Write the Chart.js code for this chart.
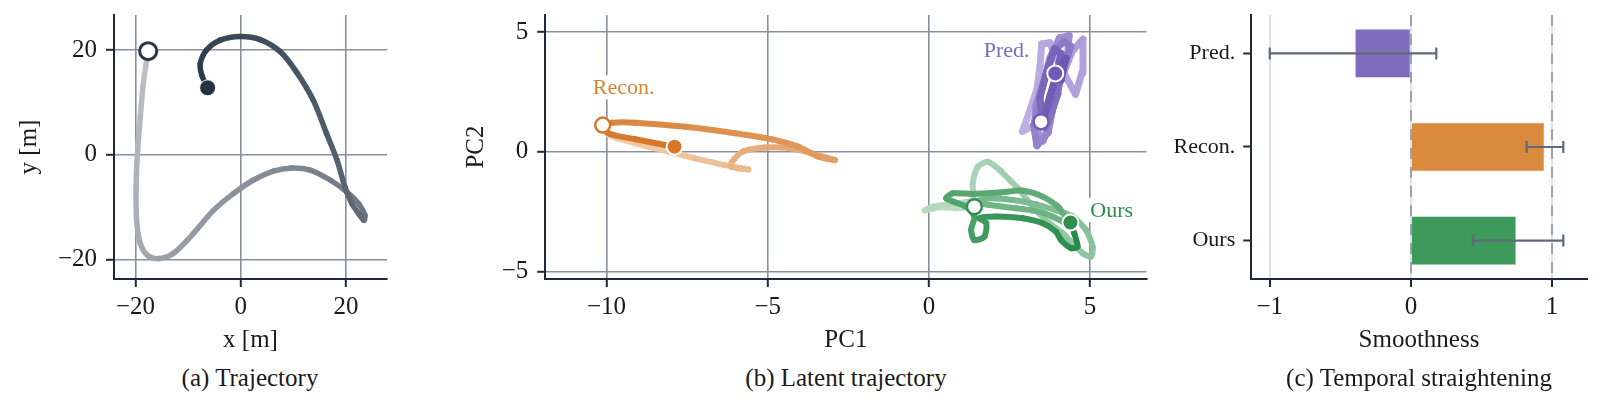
<!DOCTYPE html>
<html>
<head>
<meta charset="utf-8">
<title>Trajectory / latent trajectory / temporal straightening</title>
<script src="https://cdn.jsdelivr.net/npm/chart.js@4.4.1/dist/chart.umd.min.js"></script>
<style>
  body { margin: 0; background: #fff; width: 1603px; height: 409px; position: relative; overflow: hidden; }
  canvas { position: absolute; top: 0; }
  .caption {
    position: absolute; top: 363px; transform: translateX(-50%);
    font-family: 'Liberation Serif', serif; font-size: 25px; line-height: 30px;
    color: #1a1a1a; white-space: nowrap;
  }
</style>
</head>
<body>
<canvas id="trajChart" width="400" height="360" style="left:0px"></canvas>
<canvas id="latentChart" width="720" height="360" style="left:440px"></canvas>
<canvas id="smoothChart" width="463" height="360" style="left:1140px"></canvas>
<div class="caption" style="left:250px">(a) Trajectory</div>
<div class="caption" style="left:846px">(b) Latent trajectory</div>
<div class="caption" style="left:1419px">(c) Temporal straightening</div>

<script>
// ---- (a) trajectory, x/y in metres (start -> end)
const trajPath = [
  [-17.6, 19.8], [-18.0, 17.4], [-18.6, 13.0], [-19.1, 7.3], [-19.6, 0.9], [-19.9, -6.1],
  [-19.8, -12.5], [-19.1, -16.9], [-17.6, -19.3], [-15.5, -19.8], [-12.8, -18.8], [-9.0, -15.0],
  [-5.2, -10.6], [-1.4, -7.4], [2.4, -4.8], [6.2, -3.1], [9.7, -2.5], [13.2, -2.9],
  [17.0, -4.8], [20.2, -7.1], [22.4, -9.3], [23.6, -11.5], [23.4, -12.5], [22.4, -11.2],
  [21.1, -9.3], [19.8, -6.1], [18.3, -1.0], [16.3, 4.1], [13.8, 10.4], [10.6, 15.8],
  [7.5, 19.7], [3.7, 22.0], [-0.1, 22.6], [-3.9, 21.9], [-6.5, 20.0], [-7.7, 17.4],
  [-7.4, 15.2], [-6.3, 12.8]
];
const trajTicks = [-20, 0, 20];

// ---- (b) latent trajectories in PCA space
const reconPath = [
  [-10.12, 1.11], [-9.94, 0.70], [-9.11, 0.35], [-8.08, 0.0], [-7.25, -0.28], [-6.33, -0.56],
  [-5.60, -0.74], [-6.15, -0.62], [-6.05, -0.32], [-5.75, 0.02], [-5.09, 0.17], [-4.26, 0.14],
  [-3.64, -0.07], [-2.92, -0.35], [-3.43, -0.21], [-4.06, 0.21], [-4.88, 0.52], [-6.02, 0.77],
  [-7.56, 1.04], [-9.11, 1.21], [-9.83, 1.21], [-10.12, 1.11], [-9.94, 0.77], [-9.11, 0.52],
  [-8.18, 0.28], [-7.89, 0.21]
];
const predPath = [
  [3.48, 1.25], [2.90, 0.85], [3.10, 1.60], [3.35, 2.60], [3.45, 3.60], [3.50, 4.50],
  [3.75, 4.55], [4.00, 3.80], [4.30, 3.00], [4.55, 2.40], [4.75, 3.30], [4.78, 4.70],
  [4.45, 4.20], [4.15, 3.20], [3.90, 2.20], [3.75, 1.20], [3.55, 0.45], [3.35, 0.90],
  [3.30, 1.90], [3.55, 2.90], [3.75, 3.90], [4.05, 4.75], [4.35, 4.85], [4.30, 4.00],
  [4.05, 3.00], [3.85, 1.90], [3.70, 0.80], [3.35, 0.25], [3.25, 1.10], [3.40, 2.10],
  [3.60, 3.10], [3.85, 4.20], [4.20, 4.60], [4.40, 4.40], [4.20, 3.60], [3.95, 2.60],
  [3.70, 1.70], [3.60, 1.00], [3.80, 1.60], [4.00, 2.40], [4.05, 3.00], [3.75, 2.00],
  [3.50, 1.40], [3.45, 2.30], [3.65, 3.30], [3.90, 4.30], [4.10, 4.10], [3.95, 3.20],
  [3.75, 2.30], [3.60, 1.60], [3.85, 2.70], [4.10, 3.60], [4.25, 3.90], [4.10, 3.00],
  [3.92, 3.27]
];
const oursPath = [
  [1.41, -2.30], [0.85, -2.36], [0.33, -2.32], [-0.13, -2.46], [0.12, -2.30], [0.85, -2.15],
  [1.36, -2.02], [1.36, -1.32], [1.52, -0.63], [1.83, -0.42], [2.19, -0.76], [2.50, -1.18],
  [2.81, -1.60], [3.22, -2.30], [3.74, -2.99], [4.15, -3.41], [4.77, -4.24], [5.03, -4.38],
  [5.08, -3.97], [4.87, -3.27], [4.46, -2.71], [3.94, -2.45], [3.33, -2.20], [2.60, -2.02],
  [1.88, -1.95], [1.47, -2.09], [1.88, -2.23], [2.71, -2.36], [3.43, -2.51], [4.05, -2.85],
  [4.36, -3.13], [4.05, -2.36], [3.53, -1.88], [2.91, -1.63], [2.19, -1.71], [1.36, -1.77],
  [0.74, -1.74], [0.54, -1.95], [1.16, -2.30], [1.41, -2.71], [1.31, -3.27], [1.41, -3.69],
  [1.72, -3.55], [1.78, -2.99], [1.57, -2.78], [2.09, -2.71], [2.91, -2.78], [3.53, -2.99],
  [3.94, -3.34], [4.10, -3.69], [4.41, -4.03], [4.61, -3.97], [4.51, -3.41], [4.39, -2.96]
];
const pcXTicks = [-10, -5, 0, 5];
const pcYTicks = [-5, 0, 5];
const seriesNames = ['Pred.', 'Recon.', 'Ours'];
const seriesLabelX = [2.41, -9.47, 5.67];
const seriesLabelY = [4.25, 2.69, -2.43];

// ---- (c) smoothness per model
const smoothCats = ['Pred.', 'Recon.', 'Ours'];
const smoothMean = [-0.40, 0.95, 0.75];
const smoothLow = [-1.00, 0.82, 0.44];
const smoothHigh = [0.18, 1.08, 1.08];
const smoothTicks = [-1, 0, 1];
const smoothRefDashed = [0, 1];

// colours
const INK = '#1a1a1a';
const SPINE = '#1f2937';
const GRID = '#898f9c';
const trajColors = { light: [192, 196, 199], dark: [36, 52, 70] };
const seriesColors = {
  pred:  { light: [190, 178, 226], dark: [104, 84, 178], text: '#7b68bf' },
  recon: { light: [243, 208, 176], dark: [210, 112, 30], text: '#d9822d' },
  ours:  { light: [190, 224, 200], dark: [34, 136, 68], text: '#2f8b4e' }
};
const barColors = ['#7f6cbd', '#d98a3d', '#3d9a5b'];

Chart.defaults.font.family = "'Liberation Serif', serif";
Chart.defaults.color = INK;
Chart.defaults.animation = false;

function lerpColor(a, b, t) {
  t = Math.max(0, Math.min(1, t));
  return 'rgb(' + a.map((v, i) => Math.round(v + (b[i] - v) * t)).join(',') + ')';
}

function signed(v) {
  return v < 0 ? '\u2212' + Math.abs(v) : String(v);
}

// line whose colour runs from light (start) to dark (end)
function pathDataset(path, col, width, tension) {
  const n = path.length - 1;
  return {
    data: path.map(p => ({ x: p[0], y: p[1] })),
    showLine: true,
    pointRadius: 0,
    pointHoverRadius: 0,
    borderWidth: width,
    borderColor: lerpColor(col.light, col.dark, 0.5),
    borderCapStyle: 'round',
    borderJoinStyle: 'round',
    tension: tension,
    segment: { borderColor: ctx => lerpColor(col.light, col.dark, ctx.p0DataIndex / n) },
    order: 2
  };
}

function markerDataset(pt, fill, edge, edgeWidth, radius) {
  return {
    data: [{ x: pt[0], y: pt[1] }],
    pointRadius: radius,
    pointHoverRadius: radius,
    pointBackgroundColor: fill,
    pointBorderColor: edge,
    pointBorderWidth: edgeWidth,
    order: 0
  };
}

function axis(min, max, ticks, title, fit, opts) {
  const isX = fit.height !== undefined;
  return Object.assign({
    type: 'linear',
    min: min,
    max: max,
    offset: false,
    afterBuildTicks: s => { s.ticks = ticks.map(v => ({ value: v })); },
    afterFit: s => {
      // pin the plot area exactly; no extra room for overhanging labels
      if (isX) { s.height = fit.height; s.paddingLeft = 0; s.paddingRight = 0; }
      else { s.width = fit.width; s.paddingTop = 0; s.paddingBottom = 0; }
    },
    ticks: { font: { size: 25 }, color: INK, padding: isX ? 5 : 9, callback: v => signed(v) },
    grid: { color: GRID, lineWidth: 1.6, tickColor: SPINE, tickWidth: 2, tickLength: 8, offset: false },
    border: { display: true, color: SPINE, width: 2 },
    title: {
      display: true, text: title, color: INK, font: { size: 25 },
      padding: isX ? { top: 0, bottom: 5 } : { top: fit.titlePad, bottom: 0 }
    }
  }, opts || {});
}

// ---------- (a) Trajectory
new Chart(document.getElementById('trajChart'), {
  type: 'scatter',
  data: {
    datasets: [
      markerDataset(trajPath[0], '#ffffff', '#26384a', 3, 8.5),
      markerDataset(trajPath[trajPath.length - 1], '#233343', '#ffffff', 1, 8),
      pathDataset(trajPath, trajColors, 5.5, 0.3)
    ]
  },
  options: {
    responsive: false,
    layout: { padding: { top: 15, right: 13, left: 0, bottom: 0 } },
    plugins: { legend: { display: false }, tooltip: { enabled: false } },
    scales: {
      x: axis(-24.1, 27.8, trajTicks, 'x [m]', { height: 81 }),
      y: axis(-23.7, 26.7, trajTicks, 'y [m]', { width: 114, titlePad: 14 })
    }
  }
});

// ---------- (b) Latent trajectory
const seriesLabelPlugin = {
  id: 'seriesLabels',
  afterDatasetsDraw(chart) {
    const { ctx, scales: { x, y } } = chart;
    const cols = [seriesColors.pred.text, seriesColors.recon.text, seriesColors.ours.text];
    ctx.save();
    ctx.font = "22px 'Liberation Serif', serif";
    ctx.textAlign = 'center';
    ctx.textBaseline = 'middle';
    seriesNames.forEach((name, i) => {
      const px = x.getPixelForValue(seriesLabelX[i]);
      const py = y.getPixelForValue(seriesLabelY[i]);
      const w = ctx.measureText(name).width;
      ctx.fillStyle = '#ffffff';
      ctx.fillRect(px - w / 2 - 2, py - 12, w + 4, 24);
      ctx.fillStyle = cols[i];
      ctx.fillText(name, px, py + 1);
    });
    ctx.restore();
  }
};

function trajectoryGroup(path, col, width, tension) {
  return [
    markerDataset(path[0], '#ffffff', lerpColor(col.light, col.dark, 0.9), 2.5, 7.5),
    markerDataset(path[path.length - 1], lerpColor(col.light, col.dark, 0.92), '#ffffff', 2, 8),
    pathDataset(path, col, width, tension)
  ];
}

new Chart(document.getElementById('latentChart'), {
  type: 'scatter',
  data: {
    datasets: [].concat(
      trajectoryGroup(predPath, seriesColors.pred, 7, 0),
      trajectoryGroup(reconPath, seriesColors.recon, 6, 0.3),
      trajectoryGroup(oursPath, seriesColors.ours, 6, 0.25)
    )
  },
  options: {
    responsive: false,
    layout: { padding: { top: 15, right: 13.5, left: 0, bottom: 0 } },
    plugins: { legend: { display: false }, tooltip: { enabled: false } },
    scales: {
      x: axis(-11.9, 6.75, pcXTicks, 'PC1', { height: 81 }),
      y: axis(-5.32, 5.71, pcYTicks, 'PC2', { width: 105.3, titlePad: 21 })
    }
  },
  plugins: [seriesLabelPlugin]
});

// ---------- (c) Temporal straightening
const refLinePlugin = {
  id: 'refLines',
  beforeDatasetsDraw(chart) {
    const { ctx, chartArea: a, scales: { x } } = chart;
    ctx.save();
    ctx.strokeStyle = '#99a2b3';
    ctx.lineWidth = 2;
    ctx.setLineDash([11, 8]);
    smoothRefDashed.forEach(v => {
      const px = Math.round(x.getPixelForValue(v));
      ctx.beginPath();
      ctx.moveTo(px, a.top);
      ctx.lineTo(px, a.bottom);
      ctx.stroke();
    });
    ctx.restore();
  }
};

function errorBar(i) {
  return {
    type: 'scatter',
    data: [{ x: smoothLow[i], y: i }, { x: smoothHigh[i], y: i }],
    showLine: true,
    borderColor: '#5f6a7a',
    borderWidth: 2.2,
    pointStyle: 'line',
    rotation: 90,
    pointRadius: 6,
    pointHoverRadius: 6,
    pointBorderColor: '#5f6a7a',
    pointBorderWidth: 2.2,
    order: 0
  };
}

const smoothX = axis(-1.135, 1.25, smoothTicks, 'Smoothness', { height: 81 });
smoothX.grid = { color: '#dfe2ec', lineWidth: 2, tickColor: SPINE, tickWidth: 2, tickLength: 8, offset: false };

const smoothY = axis(-0.41, 2.41, [0, 1, 2], '', { width: 110.7, titlePad: 0 });
smoothY.reverse = true;
smoothY.title = { display: false };
smoothY.ticks = { font: { size: 22 }, color: INK, padding: 8, callback: v => smoothCats[v] };
smoothY.grid = { drawOnChartArea: false, tickColor: SPINE, tickWidth: 2, tickLength: 7.5, offset: false };

new Chart(document.getElementById('smoothChart'), {
  type: 'bar',
  data: {
    datasets: [
      {
        type: 'bar',
        data: smoothMean.map((v, i) => ({ x: v, y: i })),
        backgroundColor: barColors,
        borderColor: 'rgba(246,244,252,0.95)',
        borderWidth: 1.2,
        categoryPercentage: 1,
        barPercentage: 0.535,
        order: 1
      },
      errorBar(0), errorBar(1), errorBar(2)
    ]
  },
  options: {
    indexAxis: 'y',
    responsive: false,
    layout: { padding: { top: 15, right: 15.7, left: 0, bottom: 0 } },
    plugins: { legend: { display: false }, tooltip: { enabled: false } },
    scales: { x: smoothX, y: smoothY }
  },
  plugins: [refLinePlugin]
});
</script>
</body>
</html>
